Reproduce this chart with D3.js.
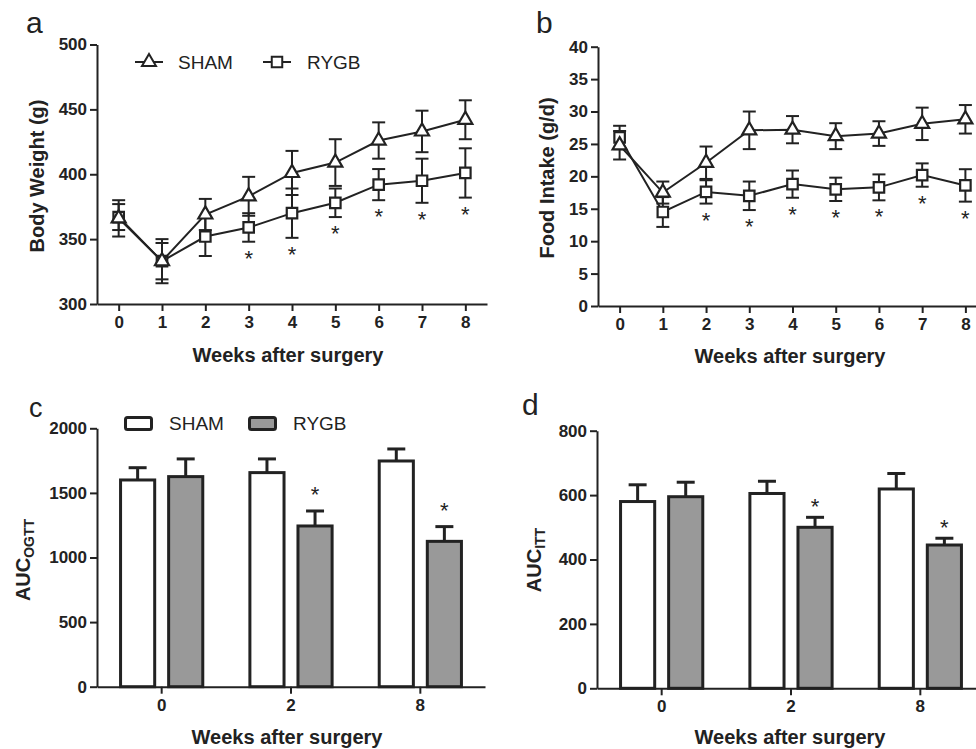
<!DOCTYPE html>
<html lang="en">
<head>
  <meta charset="UTF-8">
  <title>Body weight, food intake, OGTT and ITT after surgery</title>
  <script src="https://d3js.org/d3.v7.min.js"></script>
  <style>
    body { margin: 0; background: #fff; }
    svg { display: block; }
    text { font-family: "Liberation Sans", Arial, sans-serif; fill: #222; }
  </style>
</head>
<body>
  <script>
    // ---- data ----
    const weeks = [0, 1, 2, 3, 4, 5, 6, 7, 8];

    // a: body weight (g), mean and SEM
    const bwSham = [366, 333, 369, 383, 401, 409, 426, 433, 442];
    const bwShamErr = [14, 17, 12, 15, 17, 18, 14, 16, 15];
    const bwRygb = [367, 333, 352, 359, 370, 378, 392, 395, 401];
    const bwRygbErr = [10, 14, 15, 11, 19, 11, 12, 17, 19];
    const bwSig = [0, 0, 0, 1, 1, 1, 1, 1, 1];
    const bwTicks = [300, 350, 400, 450, 500];

    // b: food intake (g/d)
    const fiSham = [24.8, 17.5, 22.1, 27.1, 27.2, 26.2, 26.6, 28.1, 28.8];
    const fiShamErr = [2.2, 1.7, 2.5, 2.9, 2.1, 2.0, 1.9, 2.5, 2.2];
    const fiRygb = [26.0, 14.5, 17.6, 17.0, 18.8, 18.0, 18.3, 20.2, 18.6];
    const fiRygbErr = [1.8, 2.3, 1.8, 2.2, 2.1, 1.8, 2.0, 1.8, 2.5];
    const fiSig = [0, 0, 1, 1, 1, 1, 1, 1, 1];
    const fiTicks = [0, 5, 10, 15, 20, 25, 30, 35, 40];

    // c, d: AUC bars
    const aucWeeks = ["0", "2", "8"];
    const groups = ["SHAM", "RYGB"];
    const ogttSham = [1600, 1657, 1747];
    const ogttShamErr = [95, 106, 93];
    const ogttRygb = [1626, 1244, 1125];
    const ogttRygbErr = [137, 116, 114];
    const ogttSig = [0, 1, 1];
    const ogttTicks = [0, 500, 1000, 1500, 2000];

    const ittSham = [580, 605, 619];
    const ittShamErr = [52, 38, 48];
    const ittRygb = [595, 500, 445];
    const ittRygbErr = [45, 31, 21];
    const ittSig = [0, 1, 1];
    const ittTicks = [0, 200, 400, 600, 800];

    const ink = "#222";
    const grey = "#999";

    const svg = d3.select("body").append("svg")
      .attr("width", 976)
      .attr("height", 749);

    function styleAxis(g) {
      g.select(".domain").attr("stroke", ink).attr("stroke-width", 2);
      g.selectAll(".tick line").attr("stroke", ink).attr("stroke-width", 2);
      g.selectAll(".tick text")
        .attr("fill", ink)
        .style("font-size", "17px")
        .style("font-weight", "bold");
    }

    function letter(txt, x, y, size) {
      svg.append("text").attr("x", x).attr("y", y)
        .style("font-size", size + "px").text(txt);
    }

    function xTitle(cx, y) {
      svg.append("text").attr("x", cx).attr("y", y)
        .attr("text-anchor", "middle")
        .style("font-size", "20px").style("font-weight", "bold")
        .text("Weeks after surgery");
    }

    function star(g, x, y) {
      g.append("text").attr("x", x).attr("y", y)
        .attr("text-anchor", "middle").style("font-size", "22px")
        .text("*");
    }

    // ---- line panels ----
    function linePanel(o) {
      const x = d3.scaleLinear().domain([-0.5, 8.5]).range(o.xr);
      const y = d3.scaleLinear().domain(o.yd).range(o.yr);
      const g = svg.append("g");

      g.append("g").attr("transform", `translate(0,${o.yr[0]})`)
        .call(d3.axisBottom(x).tickValues(weeks).tickFormat(d3.format("d"))
          .tickSize(7).tickPadding(5).tickSizeOuter(0))
        .call(styleAxis);
      g.append("g").attr("transform", `translate(${o.xr[0]},0)`)
        .call(d3.axisLeft(y).tickValues(o.ticks).tickFormat(d3.format("d"))
          .tickSize(7).tickPadding(3).tickSizeOuter(0))
        .call(styleAxis);

      const series = [
        { vals: o.rygb, err: o.rygbErr, sym: d3.symbolSquare, size: 110 },
        { vals: o.sham, err: o.shamErr, sym: d3.symbolTriangle, size: 85 }
      ];

      series.forEach(s => {
        const eb = g.append("g").attr("stroke", ink).attr("stroke-width", 2);
        weeks.forEach((w, i) => {
          const xc = x(w), v = s.vals[i], e = s.err[i];
          eb.append("line").attr("x1", xc).attr("x2", xc)
            .attr("y1", y(v - e)).attr("y2", y(v + e));
          [v - e, v + e].forEach(t => {
            eb.append("line").attr("x1", xc - 6.5).attr("x2", xc + 6.5)
              .attr("y1", y(t)).attr("y2", y(t));
          });
        });
      });

      series.forEach(s => {
        const pts = weeks.map((w, i) => ({ w, v: s.vals[i] }));
        g.append("path").datum(pts)
          .attr("fill", "none").attr("stroke", ink).attr("stroke-width", 2)
          .attr("d", d3.line().x(d => x(d.w)).y(d => y(d.v)));
        g.selectAll(null).data(pts).enter().append("path")
          .attr("transform", d => `translate(${x(d.w)},${y(d.v)})`)
          .attr("d", d3.symbol(s.sym, s.size))
          .attr("fill", "#fff").attr("stroke", ink).attr("stroke-width", 2.2);
      });

      // significance stars under RYGB
      weeks.forEach((w, i) => {
        if (o.sig[i]) star(g, x(w), y(o.rygb[i] - o.rygbErr[i]) + 24);
      });
    }

    linePanel({
      xr: [97, 487], yd: [300, 500], yr: [304, 44.5], ticks: bwTicks,
      sham: bwSham, shamErr: bwShamErr, rygb: bwRygb, rygbErr: bwRygbErr, sig: bwSig
    });
    linePanel({
      xr: [598, 987], yd: [0, 40], yr: [306, 46.7], ticks: fiTicks,
      sham: fiSham, shamErr: fiShamErr, rygb: fiRygb, rygbErr: fiRygbErr, sig: fiSig
    });

    // legend for panel a
    const lg = svg.append("g").attr("stroke", ink).attr("stroke-width", 2);
    [[135, 163, d3.symbolTriangle, 85], [263, 291, d3.symbolSquare, 110]].forEach(l => {
      lg.append("line").attr("x1", l[0]).attr("x2", l[1]).attr("y1", 62).attr("y2", 62);
      lg.append("path").attr("transform", `translate(${(l[0] + l[1]) / 2},62)`)
        .attr("d", d3.symbol(l[2], l[3])).attr("fill", "#fff");
    });
    svg.append("text").attr("x", 178).attr("y", 69).style("font-size", "19px").text(groups[0]);
    svg.append("text").attr("x", 307).attr("y", 69).style("font-size", "19px").text(groups[1]);

    // ---- bar panels ----
    function barPanel(o) {
      const x0 = d3.scaleBand().domain(aucWeeks).range(o.xr);
      const x1 = d3.scaleBand().domain(groups).range([0, x0.bandwidth()])
        .paddingInner(0.29).paddingOuter(0.49);
      const y = d3.scaleLinear().domain(o.yd).range(o.yr);
      const g = svg.append("g");

      const rows = [];
      aucWeeks.forEach((w, i) => {
        rows.push({ w, grp: "SHAM", v: o.sham[i], e: o.shamErr[i] });
        rows.push({ w, grp: "RYGB", v: o.rygb[i], e: o.rygbErr[i], sig: o.sig[i] });
      });

      rows.forEach(r => {
        const xc = x0(r.w) + x1(r.grp) + x1.bandwidth() / 2;
        g.append("line").attr("x1", xc).attr("x2", xc)
          .attr("y1", y(r.v)).attr("y2", y(r.v + r.e))
          .attr("stroke", ink).attr("stroke-width", 3);
        g.append("line").attr("x1", xc - 9).attr("x2", xc + 9)
          .attr("y1", y(r.v + r.e)).attr("y2", y(r.v + r.e))
          .attr("stroke", ink).attr("stroke-width", 3);
      });

      g.selectAll("rect").data(rows).enter().append("rect")
        .attr("x", d => x0(d.w) + x1(d.grp))
        .attr("y", d => y(d.v))
        .attr("width", x1.bandwidth())
        .attr("height", d => y(0) - y(d.v))
        .attr("fill", d => d.grp === "SHAM" ? "#fff" : grey)
        .attr("stroke", ink).attr("stroke-width", 3);

      rows.filter(r => r.sig).forEach(r => {
        star(g, x0(r.w) + x1(r.grp) + x1.bandwidth() / 2, y(r.v + r.e) - o.starGap);
      });

      g.append("g").attr("transform", `translate(0,${o.yr[0]})`)
        .call(d3.axisBottom(x0).tickSize(7).tickPadding(5).tickSizeOuter(0))
        .call(styleAxis);
      g.append("g").attr("transform", `translate(${o.xr[0]},0)`)
        .call(d3.axisLeft(y).tickValues(o.ticks).tickFormat(d3.format("d"))
          .tickSize(7).tickPadding(3).tickSizeOuter(0))
        .call(styleAxis);
    }

    barPanel({
      xr: [97, 485], yd: [0, 2000], yr: [686.7, 428.3], ticks: ogttTicks,
      sham: ogttSham, shamErr: ogttShamErr, rygb: ogttRygb, rygbErr: ogttRygbErr,
      sig: ogttSig, starGap: 8.5
    });
    barPanel({
      xr: [597, 985], yd: [0, 800], yr: [688.3, 430.7], ticks: ittTicks,
      sham: ittSham, shamErr: ittShamErr, rygb: ittRygb, rygbErr: ittRygbErr,
      sig: ittSig, starGap: 3.5
    });

    // legend for panel c
    [[124, "#fff", 169], [248, grey, 293]].forEach((l, i) => {
      svg.append("rect").attr("x", l[0] + 1.5).attr("y", 417.5)
        .attr("width", 26).attr("height", 12).attr("rx", 2)
        .attr("fill", l[1]).attr("stroke", ink).attr("stroke-width", 3);
      svg.append("text").attr("x", l[2]).attr("y", 430)
        .style("font-size", "19px").text(groups[i]);
    });

    // ---- titles ----
    function yTitle(cx, cy, main, sub) {
      const t = svg.append("text")
        .attr("transform", `translate(${cx},${cy}) rotate(-90)`)
        .attr("text-anchor", "middle").attr("dy", "0.35em")
        .style("font-size", "20px").style("font-weight", "bold");
      t.append("tspan").text(main);
      if (sub) {
        t.append("tspan").attr("dy", "0.3em").style("font-size", "14px").text(sub);
      }
    }
    yTitle(37, 176, "Body Weight (g)");
    yTitle(547, 178, "Food Intake (g/d)");
    yTitle(23, 560, "AUC", "OGTT");
    yTitle(534, 560, "AUC", "ITT");

    xTitle(288, 362);
    xTitle(790, 363);
    xTitle(287, 744);
    xTitle(790, 744);

    letter("a", 26, 33, 30);
    letter("b", 536, 33, 30);
    letter("c", 29, 417, 27);
    letter("d", 522, 415, 30);
  </script>
</body>
</html>
